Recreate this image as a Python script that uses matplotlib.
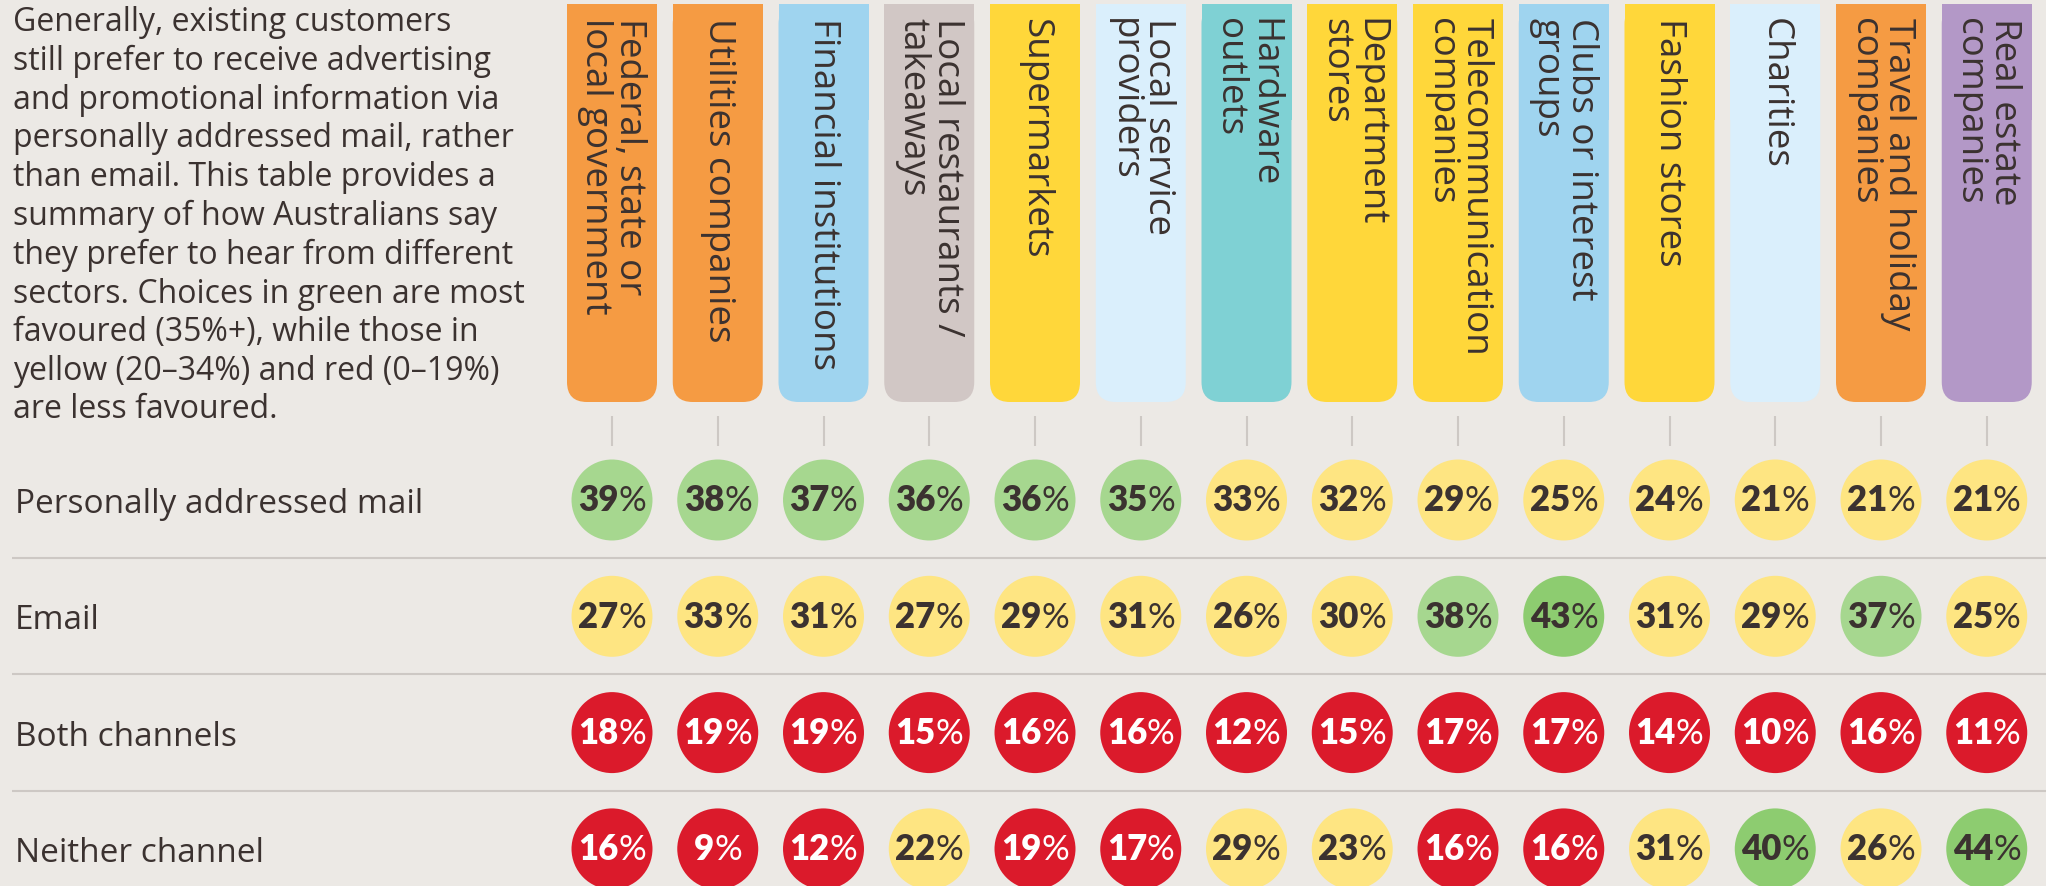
import matplotlib as mpl
mpl.use('Agg')

import matplotlib.pyplot as plt
from matplotlib.patches import FancyBboxPatch, Rectangle
from matplotlib.offsetbox import TextArea, HPacker, AnnotationBbox


sectors = [
    "Federal, state or\nlocal government",
    "Utilities companies",
    "Financial institutions",
    "Local restaurants /\ntakeaways",
    "Supermarkets",
    "Local service\nproviders",
    "Hardware\noutlets",
    "Department\nstores",
    "Telecommunication\ncompanies",
    "Clubs or interest\ngroups",
    "Fashion stores",
    "Charities",
    "Travel and holiday\ncompanies",
    "Real estate\ncompanies",
]
tab_colors = ['#f59b43', '#f59b43', '#9fd4ef', '#d1c7c5', '#ffd73a', '#daeffc', '#7fd1d4',
              '#ffd73a', '#ffd73a', '#9fd4ef', '#ffd73a', '#daeffc', '#f59b43', '#b398c7']

channels = ["Personally addressed mail", "Email", "Both channels", "Neither channel"]

mail = [39, 38, 37, 36, 36, 35, 33, 32, 29, 25, 24, 21, 21, 21]
email = [27, 33, 31, 27, 29, 31, 26, 30, 38, 43, 31, 29, 37, 25]
both = [18, 19, 19, 15, 16, 16, 12, 15, 17, 17, 14, 10, 16, 11]
neither = [16, 9, 12, 22, 19, 17, 29, 23, 16, 16, 31, 40, 26, 44]

intro = ("Generally, existing customers\n"
         "still prefer to receive advertising\n"
         "and promotional information via\n"
         "personally addressed mail, rather\n"
         "than email. This table provides a\n"
         "summary of how Australians say\n"
         "they prefer to hear from different\n"
         "sectors. Choices in green are most\n"
         "favoured (35%+), while those in\n"
         "yellow (20\u201334%) and red (0\u201319%)\n"
         "are less favoured.")

BG = '#ece9e5'
INK = '#3b3230'
LINE = '#cdc8c4'


def dot_color(v):
    if v >= 40:
        return '#8dcc70'
    if v >= 35:
        return '#a6d78f'
    if v >= 20:
        return '#fee582'
    return '#db1a2b'


# pixel layout of the grid (figure is 2046 x 887 px)
W, H = 2046, 887
COL0, COLSTEP = 612, 105.75
ROW0, ROWSTEP = 501, 116.3


def px_x(p):
    return (p - COL0) / COLSTEP


def px_y(p):
    return (p - ROW0) / ROWSTEP


fig = plt.figure(figsize=(W / 100, H / 100), dpi=100)
fig.patch.set_facecolor(BG)
ax = fig.add_axes([0, 0, 1, 1])
ax.set_facecolor(BG)
ax.set_xlim(px_x(0), px_x(W))
ax.set_ylim(px_y(H), px_y(0))
ax.axis('off')

SANS = ['Open Sans', 'DejaVu Sans']
NUM = ['Lato', 'DejaVu Sans']

# header tabs
tab_w = 90 / COLSTEP
aspect = COLSTEP / ROWSTEP
top, bottom = px_y(5), px_y(403)
for i, (name, col) in enumerate(zip(sectors, tab_colors)):
    ax.add_patch(FancyBboxPatch((i - tab_w / 2, top), tab_w, bottom - top,
                                boxstyle="round,pad=0,rounding_size=%.3f" % (20 / COLSTEP),
                                mutation_aspect=aspect, fc=col, ec='none', zorder=1))
    ax.add_patch(Rectangle((i - tab_w / 2, top), tab_w, 1.0, fc=col, ec='none', zorder=1))
    ax.text(i, px_y(18), name, rotation=-90, ha='center', va='top',
            multialignment='left', fontsize=26.5, color=INK, family=SANS,
            linespacing=0.95, zorder=2)

cols = list(range(len(sectors)))
ax.vlines(cols, px_y(417), px_y(447), color=LINE, lw=1.5)
ax.hlines([0.5, 1.5, 2.5], px_x(12), px_x(W), color=LINE, lw=1.5)

# circles
rows = [mail, email, both, neither]
for r, vals in enumerate(rows):
    ax.scatter(cols, [r] * len(cols), s=3400, c=[dot_color(v) for v in vals],
               linewidths=0, zorder=3)
    for c, v in zip(cols, vals):
        tc = 'white' if v < 20 else INK
        num = TextArea(str(v), textprops=dict(fontsize=25, fontweight='heavy',
                                              color=tc, family=NUM))
        pct = TextArea('%', textprops=dict(fontsize=25, fontweight='normal',
                                           color=tc, family=NUM))
        box = HPacker(children=[num, pct], align='baseline', pad=0, sep=0)
        ab = AnnotationBbox(box, (c, r), frameon=False, box_alignment=(0.5, 0.5),
                            pad=0, zorder=5)
        ax.add_artist(ab)

for r, name in enumerate(channels):
    ax.text(px_x(15), r + 0.03, name, ha='left', va='center', fontsize=24,
            color=INK, family=SANS)

ax.text(px_x(13), px_y(6), intro, ha='left', va='top', fontsize=23,
        color=INK, family=SANS, linespacing=1.225)

plt.savefig('out.png', dpi=100, facecolor=BG)
